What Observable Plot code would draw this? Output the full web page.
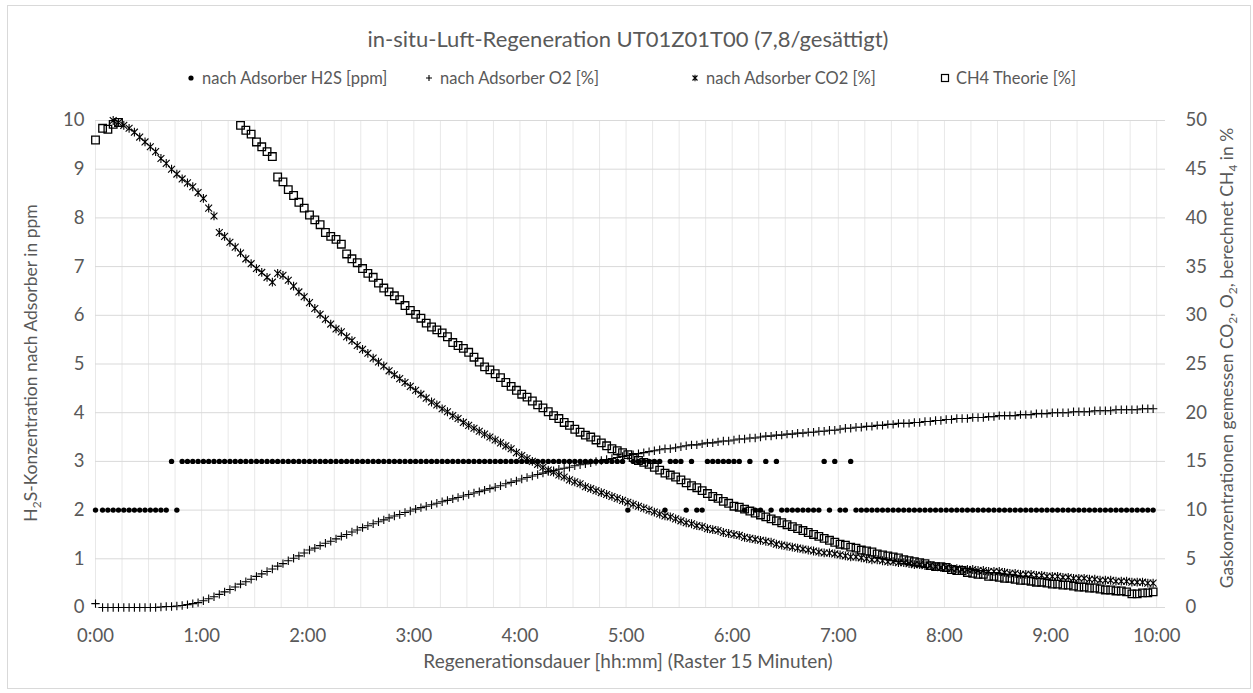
<!DOCTYPE html>
<html><head><meta charset="utf-8">
<script src="https://cdn.jsdelivr.net/npm/d3@7"></script>
<script src="https://cdn.jsdelivr.net/npm/@observablehq/plot@0.6"></script>
<style>
body{margin:0;background:#fff;font-family:Lato, sans-serif;color:#595959;}
#frame{position:absolute;left:7px;top:5px;width:1244px;height:684px;border:1px solid #d9d9d9;box-sizing:border-box;}
#title{position:absolute;left:0;top:25px;width:1256px;text-align:center;font-size:22px;white-space:nowrap;}
.item{position:absolute;top:68px;font-size:16.5px;white-space:nowrap;display:flex;align-items:center;}
.item svg{margin-right:5px;}
#chart{position:absolute;left:0;top:96px;}
</style></head><body>
<div id="frame"></div>
<div id="title"></div>
<div id="legend"></div>
<div id="chart"></div>
<script>
// ---- data (one sample every 3 minutes) ----
const h2sPpm = [
2,2,2,2,2, 2,2,2,2,2, 2,2,2,2,3, 2,3,3,3,3,
3,3,3,3,3, 3,3,3,3,3, 3,3,3,3,3, 3,3,3,3,3,
3,3,3,3,3, 3,3,3,3,3, 3,3,3,3,3, 3,3,3,3,3,
3,3,3,3,3, 3,3,3,3,3, 3,3,3,3,3, 3,3,3,3,3,
3,3,3,3,3, 3,3,3,3,3, 3,3,3,3,3, 3,3,3,3,3,
2,3,3,3,3, 3,3,2,3,3, 3,2,3,2,2, 3,3,3,3,3,
3,3,2,3,2, 2,3,2,3,2, 2,2,2,2,2, 2,2,3,2,3,
2,2,3,2,2, 2,2,2,2,2, 2,2,2,2,2, 2,2,2,2,2,
2,2,2,2,2, 2,2,2,2,2, 2,2,2,2,2, 2,2,2,2,2,
2,2,2,2,2, 2,2,2,2,2, 2,2,2,2,2, 2,2,2,2,2
];
const o2Pct = [
0.4,0,0,0,0, 0,0,0,0,0, 0,0,0.05,0.1,0.1, 0.15,0.2,0.3,0.4,0.5,
0.7,0.9,1.1,1.35,1.6, 1.85,2.1,2.4,2.65,2.9, 3.2,3.45,3.7,3.95,4.25, 4.5,4.8,5.05,5.3,5.6,
5.9,6.1,6.35,6.6,6.8, 7.05,7.3,7.5,7.75,7.95, 8.2,8.4,8.6,8.8,9.0, 9.2,9.4,9.55,9.75,9.9,
10.1,10.25,10.4,10.55,10.7, 10.85,11.0,11.15,11.3,11.45, 11.6,11.75,11.9,12.05,12.2, 12.35,12.5,12.7,12.85,13.0,
13.2,13.35,13.5,13.65,13.8, 13.95,14.05,14.2,14.3,14.4, 14.55,14.65,14.75,14.85,15.0, 15.1,15.2,15.3,15.4,15.5,
15.6,15.7,15.8,15.9,16.0, 16.1,16.2,16.3,16.3,16.4, 16.5,16.6,16.7,16.7,16.8, 16.9,16.9,17.0,17.1,17.1,
17.2,17.3,17.3,17.4,17.4, 17.5,17.6,17.6,17.7,17.7, 17.8,17.8,17.9,17.9,18.0, 18.0,18.1,18.1,18.2,18.2,
18.3,18.4,18.4,18.5,18.5, 18.6,18.6,18.7,18.7,18.8, 18.8,18.9,18.9,18.9,19.0, 19.0,19.1,19.1,19.2,19.2,
19.3,19.3,19.4,19.4,19.4, 19.5,19.5,19.5,19.6,19.6, 19.7,19.7,19.7,19.7,19.8, 19.8,19.8,19.9,19.9,19.9,
20.0,20.0,20.0,20.0,20.1, 20.1,20.1,20.1,20.2,20.2, 20.2,20.2,20.3,20.3,20.3, 20.3,20.3,20.4,20.4,20.4
];
const co2Pct = [
null,null,null,50.0,49.8, 49.5,49.2,48.8,48.3,47.8, 47.3,46.8,46.1,45.6,45.0, 44.5,44.0,43.6,43.2,42.6,
42.0,41.0,40.2,38.5,38.1, 37.5,37.0,36.4,35.8,35.3, 34.8,34.4,33.9,33.4,34.3, 34.1,33.6,33.0,32.4,31.9,
31.3,30.7,30.1,29.6,29.1, 28.6,28.3,27.8,27.4,26.9, 26.5,26.1,25.6,25.2,24.8, 24.3,23.9,23.5,23.1,22.7,
22.3,21.9,21.5,21.1,20.8, 20.4,20.1,19.7,19.4,19.0, 18.7,18.4,18.1,17.8,17.5, 17.2,16.9,16.6,16.3,15.9,
15.6,15.3,15.0,14.7,14.4, 14.1,13.9,13.6,13.4,13.1, 12.9,12.7,12.4,12.2,12.0, 11.8,11.6,11.4,11.2,11.0,
10.8,10.6,10.4,10.2,10.0, 9.8,9.6,9.4,9.3,9.1, 8.9,8.7,8.6,8.4,8.3, 8.1,8.0,7.9,7.7,7.6,
7.5,7.4,7.2,7.1,7.0, 6.9,6.8,6.7,6.5,6.4, 6.3,6.2,6.1,6.0,5.9, 5.8,5.7,5.6,5.6,5.5,
5.4,5.3,5.2,5.2,5.1, 5.0,4.9,4.9,4.8,4.7, 4.7,4.6,4.6,4.5,4.4, 4.4,4.3,4.3,4.2,4.1,
4.1,4.0,4.0,3.9,3.9, 3.9,3.8,3.8,3.7,3.7, 3.7,3.6,3.5,3.5,3.4, 3.4,3.4,3.3,3.3,3.2,
3.2,3.2,3.1,3.1,3.0, 3.0,3.0,2.9,2.9,2.8, 2.8,2.8,2.7,2.7,2.7, 2.6,2.6,2.6,2.5,2.5
];
const ch4TheoryPct = [
48.0,49.2,49.1,49.6,49.8, null,null,null,null,null, null,null,null,null,null, null,null,null,null,null,
null,null,null,null,null, null,null,49.5,49.0,48.6, 47.8,47.3,46.8,46.3,44.2, 43.7,42.9,42.3,41.6,41.0,
40.3,39.8,39.3,38.5,38.1, 37.8,37.3,36.3,35.8,35.4, 34.8,34.3,33.9,33.3,32.8, 32.4,32.0,31.6,31.0,30.5,
30.1,29.7,29.2,28.8,28.5, 28.2,27.8,27.2,26.9,26.6, 26.2,25.7,25.2,24.7,24.4, 24.0,23.6,23.1,22.7,22.3,
21.9,21.6,21.2,20.8,20.5, 20.1,19.7,19.4,19.0,18.7, 18.3,18.0,17.7,17.5,17.2, 16.9,16.6,16.3,16.1,15.9,
15.7,15.4,15.1,14.9,14.7, 14.4,14.1,13.8,13.6,13.4, 13.1,12.8,12.5,12.3,12.0, 11.7,11.4,11.2,10.9,10.7,
10.4,10.3,10.1,9.9,9.7, 9.5,9.3,9.1,8.9,8.7, 8.5,8.3,8.1,7.9,7.7, 7.5,7.3,7.1,6.9,6.7,
6.5,6.4,6.2,6.1,5.9, 5.8,5.7,5.5,5.4,5.3, 5.2,5.1,4.9,4.8,4.7, 4.6,4.5,4.3,4.2,4.2,
4.1,3.9,3.8,3.8,3.6, 3.5,3.4,3.4,3.2,3.2, 3.1,3.0,3.0,2.9,2.8, 2.8,2.7,2.6,2.6,2.5,
2.4,2.4,2.3,2.3,2.2, 2.1,2.1,2.0,2.0,1.9, 1.8,1.8,1.7,1.7,1.6, 1.4,1.4,1.5,1.5,1.6
];
const xTickMinutes = [0,60,120,180,240,300,360,420,480,540,600];
const xTickLabels = ["0:00","1:00","2:00","3:00","4:00","5:00","6:00","7:00","8:00","9:00","10:00"];
const leftTicks = [0,1,2,3,4,5,6,7,8,9,10];
const rightTickLabels = [0,5,10,15,20,25,30,35,40,45,50];
const gridMinutes = d3.range(0, 601, 15);   // 15-minute raster
const seriesNames = ["nach Adsorber H2S [ppm]","nach Adsorber O2 [%]","nach Adsorber CO2 [%]","CH4 Theorie [%]"];
const chartTitle = "in-situ-Luft-Regeneration UT01Z01T00 (7,8/gesättigt)";

// sampling clock of the logger: first reading at 0:00, then every 3 minutes
const sampleMinutes = h2sPpm.map((_, i) => i === 0 ? 0 : 3 * i + 1);

const pctToLeft = 10 / 50; // right axis 0..50 % shares the plot area with left axis 0..10 ppm

const rows = sampleMinutes.map((t, i) => ({
  t, h2s: h2sPpm[i],
  o2: o2Pct[i] == null ? null : o2Pct[i] * pctToLeft,
  co2: co2Pct[i] == null ? null : co2Pct[i] * pctToLeft,
  ch4: ch4TheoryPct[i] == null ? null : ch4TheoryPct[i] * pctToLeft
}));

const rOf = size => Math.sqrt(size / Math.PI);
const plusSym = {draw(ctx, size){const r = rOf(size); ctx.moveTo(-r,0); ctx.lineTo(r,0); ctx.moveTo(0,-r); ctx.lineTo(0,r);}};
const starSym = {draw(ctx, size){const r = rOf(size); const d = r*0.78; ctx.moveTo(-d,-d); ctx.lineTo(d,d); ctx.moveTo(-d,d); ctx.lineTo(d,-d); ctx.moveTo(0,-r); ctx.lineTo(0,r);}};
const squareSym = {draw(ctx, size){const r = rOf(size); ctx.rect(-r,-r,2*r,2*r);}};

const W = 1253, H = 597;
const plot = Plot.plot({
  width: W, height: H,
  marginTop: 24, marginBottom: 86, marginLeft: 95, marginRight: 88,
  style: "font-family: Lato, sans-serif; font-size: 18.5px; color: #595959; background: transparent; overflow: visible;",
  x: {domain: [0, 605]},
  y: {domain: [0, 10]},
  marks: [
    Plot.ruleX(gridMinutes, {stroke: "#e8e8e8", strokeWidth: 1}),
    Plot.ruleY(leftTicks, {stroke: "#d9d9d9", strokeWidth: 1}),
    Plot.axisX({ticks: xTickMinutes, tickFormat: d => xTickLabels[xTickMinutes.indexOf(d)], tickSize: 0, tickPadding: 21, label: null, fill: "#595959"}),
    Plot.axisY({anchor: "left", ticks: leftTicks, tickSize: 0, tickPadding: 11, label: null, fill: "#595959"}),
    Plot.axisY({anchor: "right", ticks: leftTicks, tickFormat: d => rightTickLabels[leftTicks.indexOf(d)], tickSize: 0, tickPadding: 20, label: null, fill: "#595959"}),
    Plot.dot(rows, {x: "t", y: "h2s", r: 2.7, fill: "black", stroke: "none"}),
    Plot.dot(rows, {x: "t", y: "o2", r: 4.2, symbol: plusSym, stroke: "black", fill: "none", strokeWidth: 1.1}),
    Plot.dot(rows, {x: "t", y: "co2", r: 4.4, symbol: starSym, stroke: "black", fill: "none", strokeWidth: 1.1}),
    Plot.dot(rows, {x: "t", y: "ch4", r: 3.8, symbol: squareSym, stroke: "black", fill: "none", strokeWidth: 1.3})
  ]
});
document.getElementById("chart").appendChild(plot);

// axis titles with subscripts
const svg = d3.select(plot);
const top0 = 96;
function addTitle(x, y, rotate, parts, size){
  const t = svg.append("text")
    .attr("transform", `translate(${x},${y - top0})` + (rotate ? " rotate(-90)" : ""))
    .attr("text-anchor", "middle").attr("fill", "#595959")
    .style("font-size", size + "px").style("font-family", "Lato, sans-serif");
  let pendingDy = 0;
  parts.forEach(p => {
    if (typeof p === "object") {
      t.append("tspan").attr("dy", 4).style("font-size", "12px").text(p.s);
      pendingDy = -4;
    } else {
      const sp = t.append("tspan").text(p);
      if (pendingDy) sp.attr("dy", pendingDy);
      pendingDy = 0;
    }
  });
  return t;
}
addTitle(37, 363, true, ["H", {s: "2"}, "S-Konzentration nach Adsorber in ppm"], 17.5);
addTitle(1233, 358, true, ["Gaskonzentrationen gemessen CO", {s: "2"}, ", O", {s: "2"}, ", berechnet CH", {s: "4"}, " in %"], 17.5);
addTitle(628, 668, false, ["Regenerationsdauer [hh:mm] (Raster 15 Minuten)"], 19);

// legend
const legendX = [185, 423, 689, 939];
const legendIcons = [
  '<circle cx="6" cy="6" r="2.6" fill="black"/>',
  '<path d="M3,6H9M6,3V9" stroke="black" stroke-width="1.1"/>',
  '<path d="M3.5,3.5L8.5,8.5M3.5,8.5L8.5,3.5M6,2.8V9.2" stroke="black" stroke-width="1.1"/>',
  '<rect x="2.5" y="2.5" width="7" height="7" fill="none" stroke="black" stroke-width="1.2"/>'
];
const legend = document.getElementById("legend");
seriesNames.forEach((name, i) => {
  const el = document.createElement("div");
  el.className = "item";
  el.style.left = legendX[i] + "px";
  el.innerHTML = `<svg width="12" height="12">${legendIcons[i]}</svg><span></span>`;
  el.querySelector("span").textContent = name;
  legend.appendChild(el);
});
document.getElementById("title").textContent = chartTitle;
</script>
</body></html>
